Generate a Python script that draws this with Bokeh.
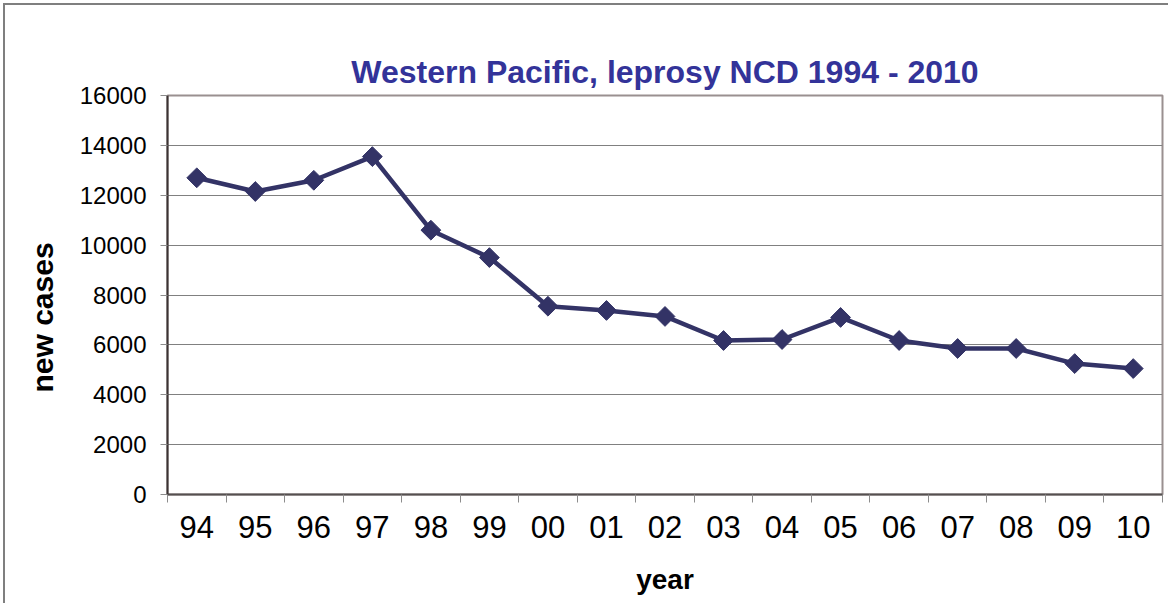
import numpy as np
from bokeh.plotting import figure
from bokeh.models import FixedTicker, Range1d, Title, LinearAxis
from bokeh.embed import file_html
from bokeh.resources import INLINE

years = ["94", "95", "96", "97", "98", "99", "00", "01", "02", "03",
         "04", "05", "06", "07", "08", "09", "10"]
new_cases = [12700, 12150, 12600, 13550, 10600, 9500, 7550, 7380, 7140, 6175,
             6215, 7100, 6175, 5855, 5855, 5250, 5050]
y_ticks = [0, 2000, 4000, 6000, 8000, 10000, 12000, 14000, 16000]
title_text = "Western Pacific, leprosy NCD 1994 - 2010"

FONT = "Liberation Sans"
NAVY = "#333366"

n = len(years)
xs = list(range(n))

p = figure(width=1165, height=600, output_backend="svg", toolbar_location=None,
           x_range=Range1d(-0.5, n - 0.5), y_range=Range1d(0, 16000),
           min_border_left=162, min_border_right=8, min_border_top=90,
           min_border_bottom=111)
p.title = None
p.styles = {"margin-left": "3px", "margin-top": "3px",
            "border-left": "2px solid #7f7f7f", "border-top": "2px solid #7f7f7f"}

p.background_fill_color = "white"
p.border_fill_color = "white"
p.outline_line_color = "#9a9090"
p.outline_line_width = 2

# grid
p.xgrid.visible = False
p.ygrid.grid_line_color = "#808080"
p.ygrid.grid_line_width = 1

# y axis
yax = p.left[0]
yax.ticker = FixedTicker(ticks=y_ticks)
yax.axis_line_color = "#3b3333"
yax.axis_line_width = 2
yax.major_tick_line_color = "#8c8c8c"
yax.major_tick_out = 7
yax.major_tick_in = 0
yax.minor_tick_line_color = None
yax.major_label_text_font = FONT
yax.major_label_text_font_size = "24px"
yax.major_label_text_color = "black"
yax.major_label_standoff = 14

# y axis title
p.add_layout(Title(text="new cases", align="left", offset=102, standoff=35,
                   text_font=FONT, text_font_style="bold",
                   text_font_size="30px", text_color="black"), "left")

# x axis
xax = p.below[0]
xax.ticker = FixedTicker(ticks=xs, minor_ticks=[i - 0.5 for i in range(n + 1)])
xax.major_label_overrides = {i: y for i, y in zip(xs, years)}
xax.axis_line_color = "#555050"
xax.axis_line_width = 2
xax.major_tick_line_color = None
xax.major_tick_out = 0
xax.major_tick_in = 0
xax.minor_tick_line_color = "#8c8c8c"
xax.minor_tick_out = 8
xax.minor_tick_in = 0
xax.major_label_text_font = FONT
xax.major_label_text_font_size = "31px"
xax.major_label_text_color = "black"
xax.major_label_standoff = 13
xax.axis_label = "year"
xax.axis_label_text_font = FONT
xax.axis_label_text_font_style = "bold"
xax.axis_label_text_font_size = "28px"
xax.axis_label_text_color = "black"
xax.axis_label_standoff = 23

# invisible spacer between frame and title (no ticks, so nothing is drawn)
spacer = LinearAxis(ticker=FixedTicker(ticks=[]), axis_line_color=None,
                    major_tick_out=32, major_tick_in=0, major_tick_line_color="white",
                    minor_tick_line_color=None, minor_tick_out=0,
                    major_label_standoff=0, major_label_text_font_size="0px")
p.add_layout(spacer, "above")

# title, outside the spacer
p.add_layout(Title(text=title_text, align="center", standoff=11,
                   text_font=FONT, text_font_style="bold",
                   text_font_size="32px", text_color="#333399"), "above")

# data
p.line(xs, new_cases, line_color=NAVY, line_width=4.5)
p.scatter(xs, new_cases, marker="square", size=14, angle=np.pi / 4,
          fill_color=NAVY, line_color=NAVY)

open("out.html", "w").write(file_html(p, INLINE))
